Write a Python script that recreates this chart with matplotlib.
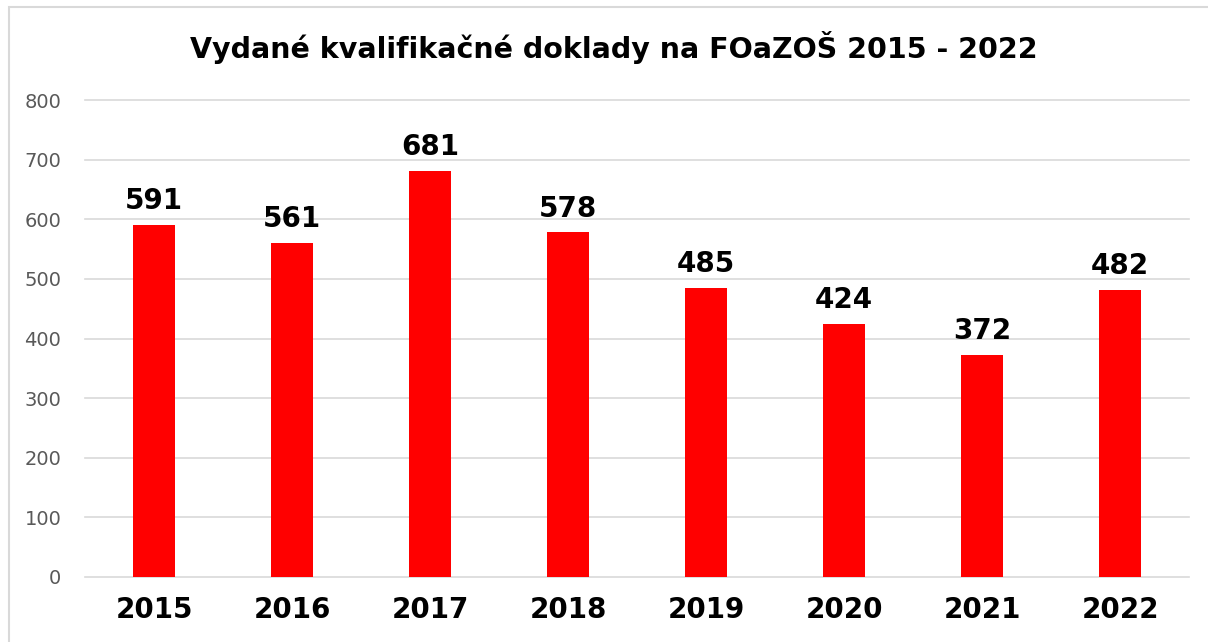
import matplotlib.pyplot as plt
import numpy as np
from matplotlib.patches import Rectangle

years = ['2015', '2016', '2017', '2018', '2019', '2020', '2021', '2022']
counts = [591, 561, 681, 578, 485, 424, 372, 482]
yticks = [0, 100, 200, 300, 400, 500, 600, 700, 800]

W, H = 1208, 642
fig = plt.figure(figsize=(W / 100, H / 100), dpi=100)
ax = fig.add_axes([85 / W, 65 / H, 1104 / W, 477 / H])

# ramecek okolo grafu (vpravo a dole oriznuty)
fig.patches.append(Rectangle((9 / W, -0.05), 1.1, (H - 7) / H + 0.05,
                             transform=fig.transFigure, fill=False,
                             edgecolor='#d9d9d9', linewidth=1.5))

x = np.arange(len(years))
ax.bar(x, counts, width=0.31, color='#ff0000', zorder=3)

for xi, v in zip(x, counts):
    ax.annotate(str(v), (xi, v), xytext=(0, 7), textcoords='offset points',
                ha='center', va='bottom', fontsize=20, fontweight='bold',
                color='black')

ax.set_xlim(-0.5, len(years) - 0.5)
ax.set_ylim(0, 800)
ax.set_yticks(yticks)
ax.set_yticklabels([str(t) for t in yticks], fontsize=14, color='#595959')
ax.set_xticks(x)
ax.set_xticklabels(years, fontsize=20, fontweight='bold', color='black')
ax.tick_params(axis='both', length=0)
ax.tick_params(axis='y', pad=17)
ax.tick_params(axis='x', pad=14)
ax.grid(axis='y', color='#d9d9d9', linewidth=1.2, zorder=0)
for gl in ax.get_ygridlines():
    gl.set_clip_on(False)
for s in ax.spines.values():
    s.set_visible(False)

fig.text(614 / W, 1 - 48 / H, 'Vydané kvalifikačné doklady na FOaZOŠ 2015 - 2022',
         ha='center', va='center', fontsize=20.5, fontweight='bold')

fig.savefig('out.png', dpi=100)
